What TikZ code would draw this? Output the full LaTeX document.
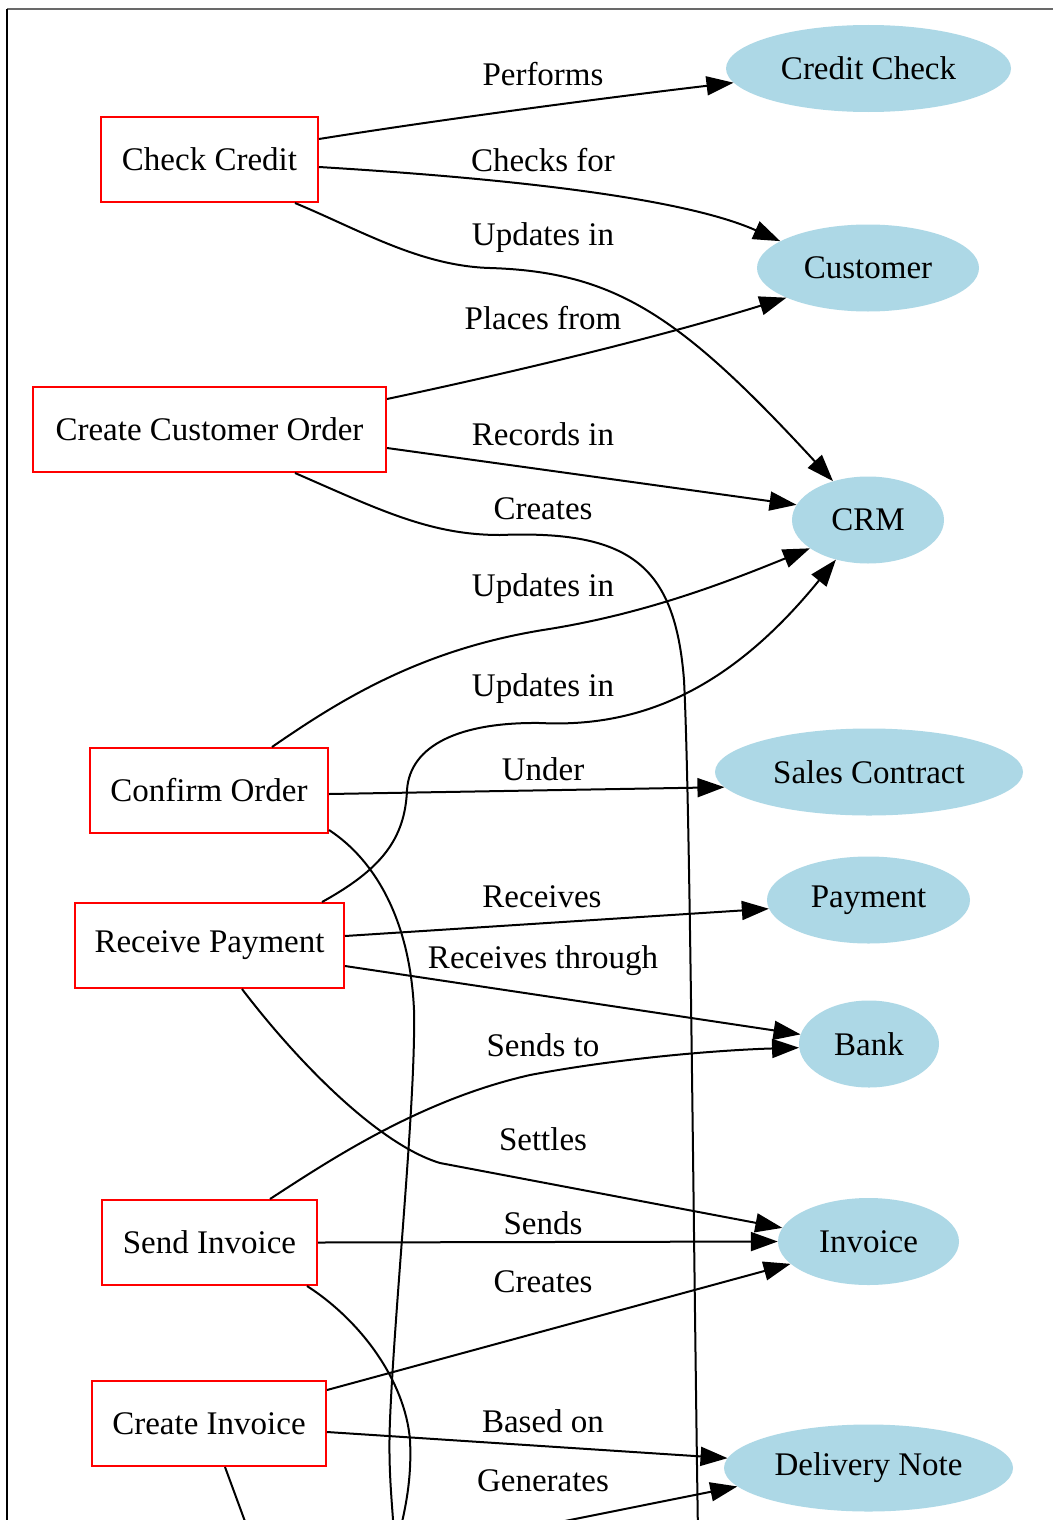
\documentclass[tikz,border=0pt]{standalone}
\usepackage{fontspec}
\setmainfont{Liberation Serif}
\usetikzlibrary{shapes.geometric,arrows.meta}
\definecolor{entblue}{RGB}{173,216,230}
\definecolor{framegray}{RGB}{105,105,105}
\tikzset{
  every node/.style={font=\fontsize{33}{40}\selectfont, inner sep=0pt},
  task/.style={draw=red, line width=2pt, rectangle, minimum height=85pt},
  entity/.style={ellipse, fill=entblue, minimum height=87pt},
  lbl/.style={},
  rel/.style={line width=2pt, -{Triangle[length=27pt,width=19pt]}},
  relopen/.style={line width=2pt},
}
\begin{document}
\begin{tikzpicture}[x=1pt,y=-1pt]
\useasboundingbox (0,0) rectangle (1053,1520);
\clip (0,0) rectangle (1053,1520);
\fill[white] (0,0) rectangle (1053,1520);
% frame edges
\draw[framegray, line width=2pt] (7,9) -- (1053,9);
\draw[black, line width=1.5pt] (7,9) -- (7,1520);

% process boxes
\node[task, minimum width=217pt] (chk) at (209.5,159.5) {Check Credit};
\node[task, minimum width=353pt] (cco) at (209.5,429.5) {Create Customer Order};
\node[task, minimum width=238pt] (co)  at (209,790.5) {Confirm Order};
\node[task, minimum width=269pt] (rp)  at (209.5,945.5) {Receive Payment};
\node[task, minimum width=215pt] (si)  at (209.5,1242.5) {Send Invoice};
\node[task, minimum width=234pt] (ci)  at (209,1423.5) {Create Invoice};

% entities
\node[entity, minimum width=285pt] (ccheck) at (868.5,68.5) {Credit Check};
\node[entity, minimum width=222pt] (cust) at (868,268) {Customer};
\node[entity, minimum width=152pt] (crm) at (868,520) {CRM};
\node[entity, minimum width=308pt] (sc) at (869,772) {Sales Contract};
\node[entity, minimum width=203pt] (pay) at (868.5,900) {Payment};
\node[entity, minimum width=140pt] (bank) at (869,1044) {Bank};
\node[entity, minimum width=181pt] (inv) at (868.5,1241.5) {Invoice};
\node[entity, minimum width=289pt] (dn) at (868.5,1468) {Delivery Note};

% free ends beyond the lower edge
\coordinate (out6) at (698,1535);
\coordinate (out10) at (394,1535);
\coordinate (out16) at (399,1535);
\coordinate (out19) at (250,1535);
\coordinate (in20) at (545,1525);

% relations
\draw[rel] ([yshift=20.5pt]chk.east) .. controls (450,118) and (620,96) .. (ccheck.186);
\draw[rel] ([yshift=-7.5pt]chk.east) .. controls (450,175) and (670,192) .. (cust.163);
\draw[rel] ([xshift=85.5pt]chk.south) .. controls (360,230) and (420,266) .. (490,268)
   .. controls (615,272) and (680,315) .. (crm.132);
\draw[rel] ([yshift=30.5pt]cco.east) .. controls (500,375) and (650,340) .. (cust.200);
\draw[rel] ([yshift=-18.5pt]cco.east) -- (crm.168);
\draw[relopen] ([xshift=85.5pt]cco.south) .. controls (380,510) and (430,535) .. (500,535)
   .. controls (630,530) and (675,565) .. (684,680)
   .. controls (690,800) and (693,1200) .. (out6);
\draw[rel] ([xshift=63pt]co.north) .. controls (340,700) and (420,650) .. (543,630)
   .. controls (640,615) and (720,585) .. (crm.206);
\draw[rel] ([xshift=112.5pt]rp.north) .. controls (380,870) and (405,840) .. (407,790)
   .. controls (410,745) and (460,722) .. (540,723)
   .. controls (640,728) and (730,690) .. (crm.231);
\draw[rel] ([yshift=-3.5pt]co.east) -- (sc.186);
\draw[relopen] ([yshift=-39.5pt]co.east) .. controls (375,860) and (410,920) .. (414,1010)
   .. controls (416,1100) and (395,1300) .. (390,1420)
   .. controls (388,1470) and (392,1500) .. (out10);
\draw[rel] ([yshift=9.5pt]rp.east) -- (pay.185);
\draw[rel] ([yshift=-20.5pt]rp.east) -- (bank.172);
\draw[rel] ([xshift=60.5pt]si.north) .. controls (330,1160) and (420,1100) .. (530,1075)
   .. controls (620,1058) and (720,1050) .. (bank.183);
\draw[rel] ([xshift=32.5pt]rp.south) .. controls (300,1065) and (380,1145) .. (440,1163)
   -- (inv.171);
\draw[rel] (si.east) -- (inv.west);
\draw[relopen] ([xshift=97.5pt]si.south) .. controls (360,1320) and (405,1380) .. (410,1440)
   .. controls (412,1480) and (405,1510) .. (out16);
\draw[rel] ([yshift=33.5pt]ci.east) -- (inv.196);
\draw[rel] ([yshift=-8.5pt]ci.east) -- (dn.176);
\draw[relopen] ([xshift=16pt]ci.south) -- (out19);
\draw[rel] (in20) -- (dn.188);

% relation labels
\node[lbl] (l1) at (543,74) {Performs};
\node[lbl] (l2) at (543,160) {Checks for};
\node[lbl] (l3) at (543,238) {Updates in};
\node[lbl] (l4) at (543,318) {Places from};
\node[lbl] (l5) at (543,434) {Records in};
\node[lbl] (l6) at (543,509) {Creates};
\node[lbl] (l7) at (543,589) {Updates in};
\node[lbl] (l8) at (543,689) {Updates in};
\node[lbl] (l9) at (543,769) {Under};
\node[lbl] (l10) at (542,897) {Receives};
\node[lbl] (l11) at (543,961) {Receives through};
\node[lbl] (l12) at (543,1045) {Sends to};
\node[lbl] (l13) at (543,1139) {Settles};
\node[lbl] (l14) at (543,1223) {Sends};
\node[lbl] (l15) at (543,1282) {Creates};
\node[lbl] (l16) at (543,1421) {Based on};
\node[lbl] (l17) at (543,1481) {Generates};
\end{tikzpicture}
\end{document}
